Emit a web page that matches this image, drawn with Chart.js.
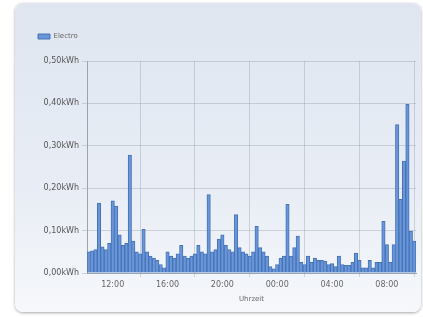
<!DOCTYPE html>
<html>
<head>
<meta charset="utf-8">
<script src="https://cdn.jsdelivr.net/npm/chart.js@4/dist/chart.umd.min.js"></script>
<style>
  html, body { margin: 0; padding: 0; background: #fff; }
  body { width: 423px; height: 317px; position: relative; overflow: hidden; }
  .card {
    position: absolute; left: 15px; top: 3px; width: 406px; height: 309px;
    border-radius: 8px;
    background: linear-gradient(#dfe6f0, #e8edf5 60%, #f6f8fb);
    box-shadow: 0 1px 3px rgba(0,0,0,0.35);
  }
  .card canvas { position: absolute; left: 0; top: 0; }
</style>
</head>
<body>
<div class="card"><canvas id="myChart" width="406" height="309"></canvas></div>
<script>
// 15 minute readings, starting 10:15
let values = [
  0.05, 0.052, 0.055, 0.165, 0.062, 0.055, 0.07, 0.17, 0.158, 0.09,
  0.065, 0.07, 0.278, 0.075, 0.05, 0.045, 0.103, 0.05, 0.04, 0.035,
  0.03, 0.02, 0.012, 0.05, 0.04, 0.035, 0.045, 0.065, 0.04, 0.035,
  0.04, 0.045, 0.065, 0.05, 0.045, 0.185, 0.05, 0.055, 0.08, 0.09,
  0.065, 0.055, 0.05, 0.138, 0.06, 0.05, 0.045, 0.04, 0.05, 0.11,
  0.06, 0.05, 0.04, 0.015, 0.01, 0.02, 0.035, 0.04, 0.162, 0.04,
  0.06, 0.087, 0.025, 0.02, 0.04, 0.025, 0.035, 0.03, 0.03, 0.028,
  0.02, 0.022, 0.015, 0.04, 0.02, 0.018, 0.018, 0.025, 0.047, 0.03,
  0.012, 0.012, 0.03, 0.012, 0.025, 0.025, 0.122, 0.067, 0.025, 0.067,
  0.35, 0.174, 0.264, 0.398, 0.099, 0.075
];

let times = [];
for (let i = 0; i < values.length; i++) {
  let m = 10 * 60 + 15 + i * 15;
  let h = Math.floor(m / 60) % 24;
  let mm = m % 60;
  times.push(String(h).padStart(2, "0") + ":" + String(mm).padStart(2, "0"));
}
let shownTimes = ["12:00", "16:00", "20:00", "00:00", "04:00", "08:00"];
let yTicks = [0, 0.1, 0.2, 0.3, 0.4, 0.5];

const ctx = document.getElementById("myChart").getContext("2d");
const gridColor = "rgba(150,160,175,0.4)";

// extra space under the legend
const legendGap = {
  id: "legendGap",
  beforeInit(chart) {
    const fit = chart.legend.fit;
    chart.legend.fit = function () {
      fit.bind(chart.legend)();
      this.height += 11;
    };
  }
};

new Chart(ctx, {
  type: "bar",
  data: {
    labels: times,
    datasets: [{
      label: "Electro",
      data: values,
      backgroundColor: "#6896d8",
      borderColor: "#4672b8",
      borderWidth: 1,
      barPercentage: 1,
      categoryPercentage: 1
    }]
  },
  options: {
    responsive: false,
    animation: false,
    layout: { padding: { left: 20, right: 5, top: 27, bottom: 9 } },
    plugins: {
      legend: {
        align: "start",
        labels: {
          boxWidth: 12,
          boxHeight: 5,
          color: "#666",
          font: { family: "DejaVu Sans", size: 7 },
          padding: 3
        }
      },
      tooltip: { enabled: false }
    },
    scales: {
      x: {
        offset: true,
        grid: { color: gridColor, offset: true, tickLength: 4 },
        border: { color: "#9aa3b0" },
        ticks: {
          autoSkip: false,
          maxRotation: 0,
          color: "#666",
          font: { family: "DejaVu Sans", size: 8 },
          callback: function (v, i) {
            return shownTimes.includes(times[i]) ? times[i] : null;
          }
        },
        title: {
          display: true,
          text: "Uhrzeit",
          color: "#666",
          font: { family: "DejaVu Sans", size: 7 },
          padding: { top: 2, bottom: 0 }
        }
      },
      y: {
        min: 0,
        max: 0.5,
        afterFit: function (s) { s.width = 52; },
        afterBuildTicks: function (s) { s.ticks = yTicks.map(v => ({ value: v })); },
        grid: { color: gridColor, tickLength: 5 },
        border: { color: "#9aa3b0" },
        ticks: {
          color: "#555",
          font: { family: "DejaVu Sans", size: 8 },
          callback: v => v.toFixed(2).replace(".", ",") + "kWh"
        }
      }
    }
  },
  plugins: [legendGap]
});
</script>
</body>
</html>
